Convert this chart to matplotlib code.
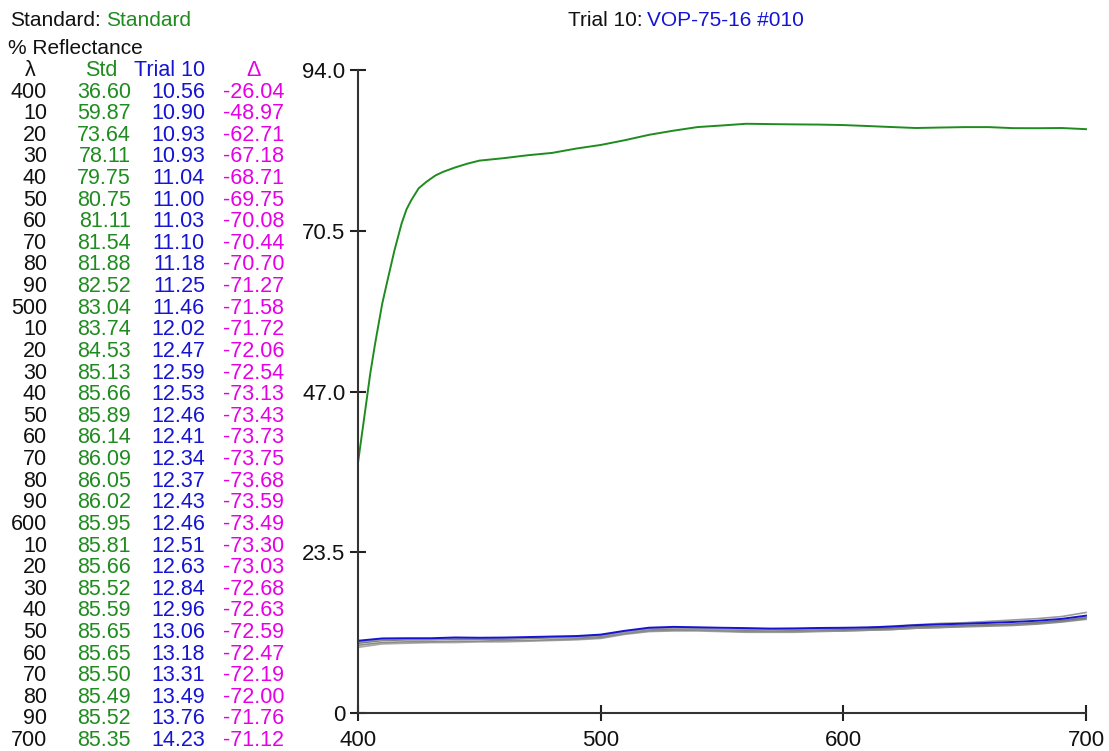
import numpy as np
import matplotlib
matplotlib.use("Agg")
import matplotlib.pyplot as plt

# ---- data -----------------------------------------------------------------

wavelengths = [400, 410, 420, 430, 440, 450, 460, 470, 480, 490,
               500, 510, 520, 530, 540, 550, 560, 570, 580, 590,
               600, 610, 620, 630, 640, 650, 660, 670, 680, 690, 700]

std = [36.60, 59.87, 73.64, 78.11, 79.75, 80.75, 81.11, 81.54, 81.88, 82.52,
       83.04, 83.74, 84.53, 85.13, 85.66, 85.89, 86.14, 86.09, 86.05, 86.02,
       85.95, 85.81, 85.66, 85.52, 85.59, 85.65, 85.65, 85.50, 85.49, 85.52, 85.35]

trial10 = [10.56, 10.90, 10.93, 10.93, 11.04, 11.00, 11.03, 11.10, 11.18, 11.25,
           11.46, 12.02, 12.47, 12.59, 12.53, 12.46, 12.41, 12.34, 12.37, 12.43,
           12.46, 12.51, 12.63, 12.84, 12.96, 13.06, 13.18, 13.31, 13.49, 13.76, 14.23]

delta = [-26.04, -48.97, -62.71, -67.18, -68.71, -69.75, -70.08, -70.44, -70.70, -71.27,
         -71.58, -71.72, -72.06, -72.54, -73.13, -73.43, -73.73, -73.75, -73.68, -73.59,
         -73.49, -73.30, -73.03, -72.68, -72.63, -72.59, -72.47, -72.19, -72.00, -71.76, -71.12]

std_extra_wl = [403, 405, 407, 412, 415, 418, 422, 425, 428, 432, 435, 445]
std_extra = [44.3, 49.5, 53.9, 63.0, 67.6, 71.6, 75.0, 76.7, 77.6, 78.6, 79.1, 80.3]

# other trials drawn in grey
grey1 = [10.2, 10.6, 10.7, 10.7, 10.8, 10.8, 10.8, 10.9, 11.0, 11.0,
         11.2, 11.8, 12.2, 12.3, 12.3, 12.2, 12.1, 12.1, 12.1, 12.2,
         12.2, 12.3, 12.4, 12.6, 12.7, 12.8, 12.9, 13.0, 13.2, 13.5, 13.9]
grey2 = [9.9, 10.3, 10.4, 10.4, 10.5, 10.5, 10.6, 10.6, 10.7, 10.8,
         11.0, 11.6, 12.0, 12.1, 12.1, 12.0, 11.9, 11.9, 11.9, 12.0,
         12.0, 12.1, 12.2, 12.4, 12.5, 12.6, 12.7, 12.8, 13.0, 13.3, 13.7]
grey3 = [9.6, 10.1, 10.2, 10.3, 10.3, 10.4, 10.4, 10.5, 10.6, 10.7,
         10.9, 11.5, 11.9, 12.0, 12.0, 11.9, 11.8, 11.8, 11.8, 11.9,
         12.0, 12.1, 12.2, 12.4, 12.5, 12.7, 12.8, 13.0, 13.2, 13.5, 14.0]
grey4 = [10.4, 10.7, 10.8, 10.8, 10.9, 10.9, 10.9, 11.0, 11.1, 11.1,
         11.3, 11.8, 12.3, 12.4, 12.3, 12.2, 12.2, 12.1, 12.2, 12.3,
         12.4, 12.5, 12.7, 12.9, 13.1, 13.2, 13.4, 13.6, 13.8, 14.1, 14.7]

y_ticks = [0, 23.5, 47.0, 70.5, 94.0]
y_tick_labels = ["0", "23.5", "47.0", "70.5", "94.0"]
x_ticks = [400, 500, 600, 700]

GREEN = "#1e8c1e"
BLUE = "#1414d2"
MAGENTA = "#e600e6"
BLACK = "#111111"

plt.rcParams["font.family"] = ["Liberation Sans", "DejaVu Sans"]

W, H = 1109, 751
fig = plt.figure(figsize=(W / 100, H / 100), dpi=100)


def fx(px):
    return px / W


def fy(py):
    return 1 - py / H


# ---- the plot on the right --------------------------------------------------

ax = fig.add_axes([fx(358), fy(713), fx(1086) - fx(358), fy(70) - fy(713)])

# merge the table points with the extra points for the green line
pairs = sorted(list(zip(wavelengths, std)) + list(zip(std_extra_wl, std_extra)))
green_wl = [p[0] for p in pairs]
green_val = [p[1] for p in pairs]

for g, c in zip([grey3, grey2, grey1, grey4], ["#a8a8a8", "#8c8c8c", "#777777", "#9a9a9a"]):
    ax.plot(wavelengths, g, color=c, lw=1.2, clip_on=False)
ax.plot(wavelengths, trial10, color=BLUE, lw=1.4, clip_on=False)
ax.plot(green_wl, green_val, color=GREEN, lw=1.4, clip_on=False)

ax.set_xlim(400, 700)
ax.set_ylim(0, 94)
ax.set_xticks(x_ticks)
ax.set_yticks(y_ticks)
ax.set_yticklabels(y_tick_labels)
ax.spines["top"].set_visible(False)
ax.spines["right"].set_visible(False)
for s in ["left", "bottom"]:
    ax.spines[s].set_color("#333333")
    ax.spines[s].set_linewidth(1.5)
ax.tick_params(direction="inout", length=12, width=1.5, color="#222222",
               labelsize=16, labelcolor=BLACK)
ax.tick_params(axis="x", pad=6)
ax.tick_params(axis="y", pad=3)

# ---- titles and the value table on the left --------------------------------

fs = 15.5
ft = 15
fig.text(fx(10), fy(20), "Standard:", fontsize=ft, color=BLACK, va="center")
fig.text(fx(106), fy(20), "Standard", fontsize=ft, color=GREEN, va="center")
fig.text(fx(568), fy(20), "Trial 10:", fontsize=ft, color=BLACK, va="center")
fig.text(fx(647), fy(20), "VOP-75-16 #010", fontsize=ft, color=BLUE, va="center")
fig.text(fx(8), fy(49), "% Reflectance", fontsize=ft, color=BLACK, va="center")

fig.text(fx(30), fy(70), "λ", fontsize=fs, color=BLACK, ha="center", va="center")
fig.text(fx(101), fy(70), "Std", fontsize=fs, color=GREEN, ha="center", va="center")
fig.text(fx(205), fy(70), "Trial 10", fontsize=fs, color=BLUE, ha="right", va="center")
fig.text(fx(254), fy(70), "Δ", fontsize=fs, color=MAGENTA, ha="center", va="center")

for i, wl in enumerate(wavelengths):
    yy = fy(92 + i * 21.62)
    lab = str(wl) if wl % 100 == 0 else str(wl % 100)
    fig.text(fx(47), yy, lab, fontsize=fs, color=BLACK, ha="right", va="center")
    fig.text(fx(131), yy, f"{std[i]:.2f}", fontsize=fs, color=GREEN, ha="right", va="center")
    fig.text(fx(205), yy, f"{trial10[i]:.2f}", fontsize=fs, color=BLUE, ha="right", va="center")
    fig.text(fx(284), yy, f"{delta[i]:.2f}", fontsize=fs, color=MAGENTA, ha="right", va="center")

fig.savefig("out.png", dpi=100)
